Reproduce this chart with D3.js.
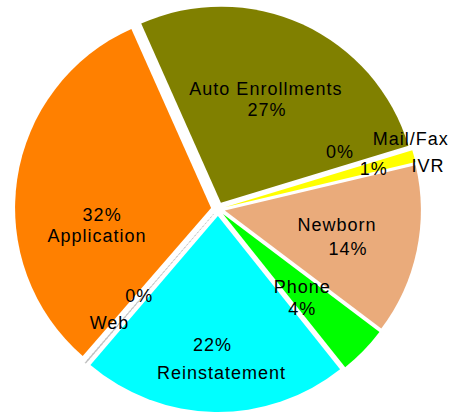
<!DOCTYPE html>
<html>
<head>
<meta charset="utf-8">
<script src="https://cdn.jsdelivr.net/npm/d3@7"></script>
<style>
  html, body { margin: 0; padding: 0; background: #fff; }
  svg { display: block; }
  text { font-family: "Liberation Sans", Arial, sans-serif; font-size: 18px; letter-spacing: 1px; fill: #000; }
</style>
</head>
<body>
<div id="root"></div>
<script>
const SVG_WIDTH = 452;
const SVG_HEIGHT = 415;

// data, clockwise from the top edge of Auto Enrollments
const categories = ['Auto Enrollments', 'Mail/Fax', 'IVR', 'Newborn', 'Phone', 'Reinstatement', 'Web', 'Application'];
const values = [27, 0, 1, 14, 4, 22, 0.1, 32];
const colors = ['#808000', '#ffffff', '#ffff00', '#eaab7b', '#00ff00', '#00ffff', '#b8b8b8', '#ff8000'];

// label layout: [radius fraction, angle offset from slice middle in degrees]
const namePos = [[0.662, -2.9], [1.048, -3.3], [1.094, 3.4], [0.613, -4.3], [0.583, -1.7], [0.834, -2.25], [0.801, 3], [0.632, -20.7]];
const pctPos = [[0.564, 1.7], [0.688, -8.4], [0.821, 0.6], [0.693, 4.9], [0.664, 5.4], [0.694, 1.3], [0.596, 1.6], [0.592, -11.3]];

const CX = 218;
const CY = 209;
const R = 196;
const EXPLODE = 7;
const START = -24 * Math.PI / 180;

function addSvg() {
  const svg = document.createElementNS('http://www.w3.org/2000/svg', 'svg');
  svg.id = 'svg';
  svg.setAttribute('width', SVG_WIDTH);
  svg.setAttribute('height', SVG_HEIGHT);
  return svg;
}

function polar(rad, ang) {
  return [Math.sin(ang) * rad, -Math.cos(ang) * rad];
}

function fill() {
  const svg = d3.select('#svg');
  const g = svg.append('g').attr('transform', `translate(${CX},${CY})`);
  const pie = d3.pie().sort(null).value((d) => d).startAngle(START).endAngle(START + 2 * Math.PI);
  const arcs = pie(values);
  const arc = d3.arc().innerRadius(0).outerRadius(R);
  const total = d3.sum(values);
  const fmt = d3.format('.0%');

  g.selectAll('path.slice')
    .data(arcs)
    .join('path')
    .attr('class', 'slice')
    .attr('d', arc)
    .attr('transform', (d) => {
      const [x, y] = polar(EXPLODE, (d.startAngle + d.endAngle) / 2);
      return `translate(${x},${y})`;
    })
    .attr('fill', (d, i) => colors[i])
    .attr('stroke', (d, i) => (categories[i] === 'Web' ? '#c8c8c8' : 'none'))
    .attr('stroke-width', 0.8)
    .attr('stroke-dasharray', (d, i) => (categories[i] === 'Web' ? '2,2' : null));

  const labels = g.append('g');
  arcs.forEach((d, i) => {
    const mid = (d.startAngle + d.endAngle) / 2;
    const n = polar(namePos[i][0] * R, mid + namePos[i][1] * Math.PI / 180);
    const p = polar(pctPos[i][0] * R, mid + pctPos[i][1] * Math.PI / 180);
    labels.append('text').attr('x', n[0]).attr('y', n[1]).attr('dy', '0.36em')
      .attr('text-anchor', 'middle').text(categories[i]);
    labels.append('text').attr('x', p[0]).attr('y', p[1]).attr('dy', '0.36em')
      .attr('text-anchor', 'middle').text(fmt(values[i] / total));
  });
}

function main() {
  fill();
}

const root = document.getElementById('root');
root.appendChild(addSvg());
main();
</script>
</body>
</html>
